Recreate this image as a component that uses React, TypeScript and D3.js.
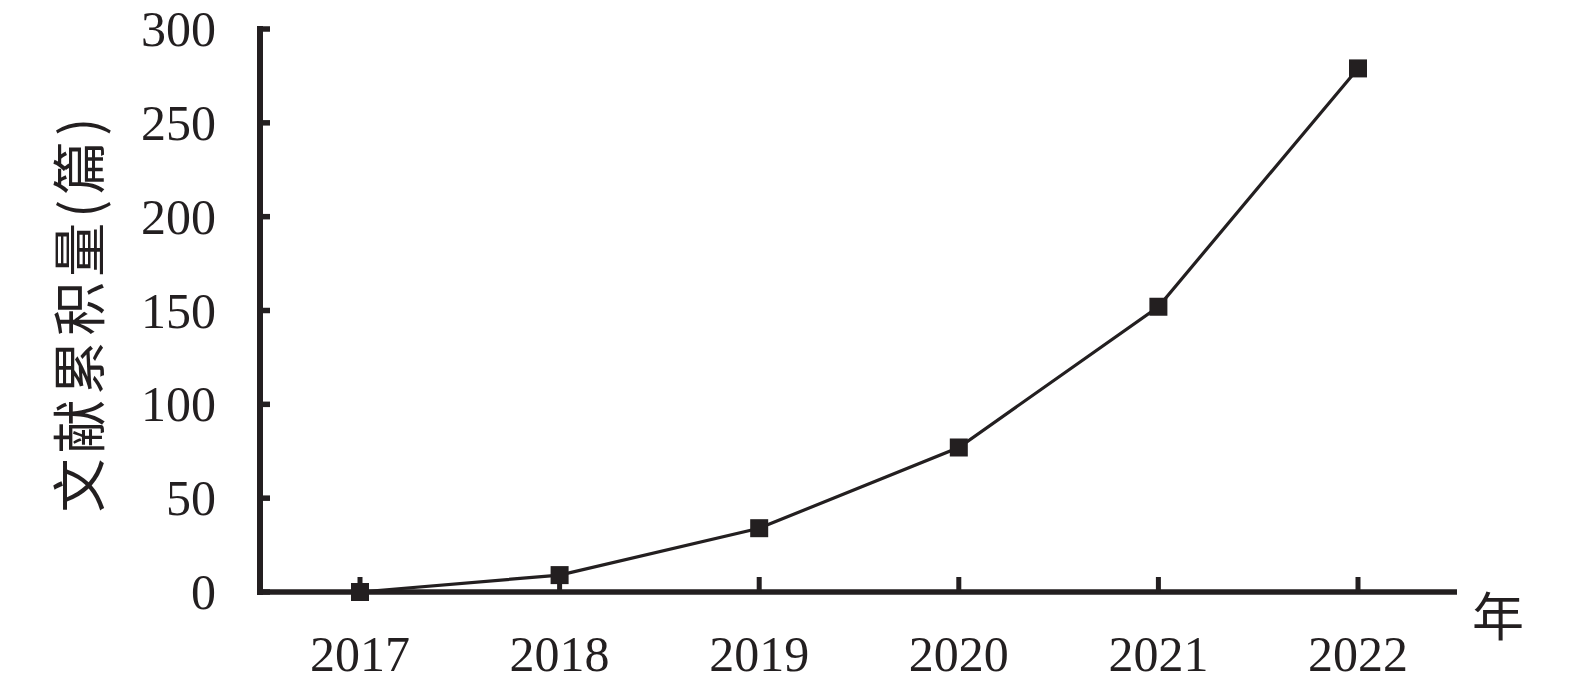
import React from "react";
import * as d3 from "d3";

const years = ["2017", "2018", "2019", "2020", "2021", "2022"];
const counts = [0, 9, 34, 77, 152, 279];
const yTicks = [0, 50, 100, 150, 200, 250, 300];

const W = 1575;
const H = 692;
const INK = "#231f20";

export default function App() {
  const x = d3.scalePoint<string>().domain(years).range([360, 1358]);
  const y = d3.scaleLinear().domain([0, 300]).range([592, 29]);
  const line = d3
    .line<number>()
    .x((_, i) => x(years[i]) as number)
    .y((d) => y(d));
  const axisLeft = 260;
  const axisRight = 1457;
  const ms = 18;
  return (
    <svg
      width={W}
      height={H}
      style={{ position: "absolute", left: 0, top: 0, background: "#fff" }}
    >
      {/* y axis */}
      <line x1={axisLeft} x2={axisLeft} y1={y(300) - 3} y2={y(0) + 3} stroke={INK} strokeWidth={6} />
      {yTicks.map((t) => (
        <g key={t}>
          <line x1={axisLeft} x2={270} y1={y(t)} y2={y(t)} stroke={INK} strokeWidth={5.5} />
          <text
            x={216}
            y={y(t)}
            textAnchor="end"
            dominantBaseline="central"
            fontFamily="Liberation Serif, serif"
            fontSize={50}
            fill={INK}
          >
            {t}
          </text>
        </g>
      ))}
      {/* x axis */}
      <line x1={axisLeft - 3} x2={axisRight} y1={y(0)} y2={y(0)} stroke={INK} strokeWidth={5.5} />
      {years.map((yr) => (
        <g key={yr}>
          <line x1={x(yr)} x2={x(yr)} y1={y(0)} y2={y(0) - 15} stroke={INK} strokeWidth={5} />
          <text
            x={x(yr)}
            y={671}
            textAnchor="middle"
            fontFamily="Liberation Serif, serif"
            fontSize={50}
            fill={INK}
          >
            {yr}
          </text>
        </g>
      ))}
      {/* line */}
      <path d={line(counts) || ""} fill="none" stroke={INK} strokeWidth={3.2} />
      {counts.map((c, i) => (
        <rect
          key={i}
          x={(x(years[i]) as number) - ms / 2}
          y={y(c) - ms / 2}
          width={ms}
          height={ms}
          fill={INK}
        />
      ))}
      {/* axis titles */}
      <text
        transform={`translate(76,315) rotate(-90)`}
        textAnchor="middle"
        dominantBaseline="central"
        fontFamily="Noto Sans CJK SC, sans-serif"
        fontSize={54}
        fill={INK}
        textLength={395}
        lengthAdjust="spacing"
      >
        文献累积量(篇)
      </text>
      <text
        x={1498}
        y={613}
        textAnchor="middle"
        dominantBaseline="central"
        fontFamily="Noto Sans CJK SC, sans-serif"
        fontSize={52}
        fill={INK}
      >
        年
      </text>
    </svg>
  );
}
